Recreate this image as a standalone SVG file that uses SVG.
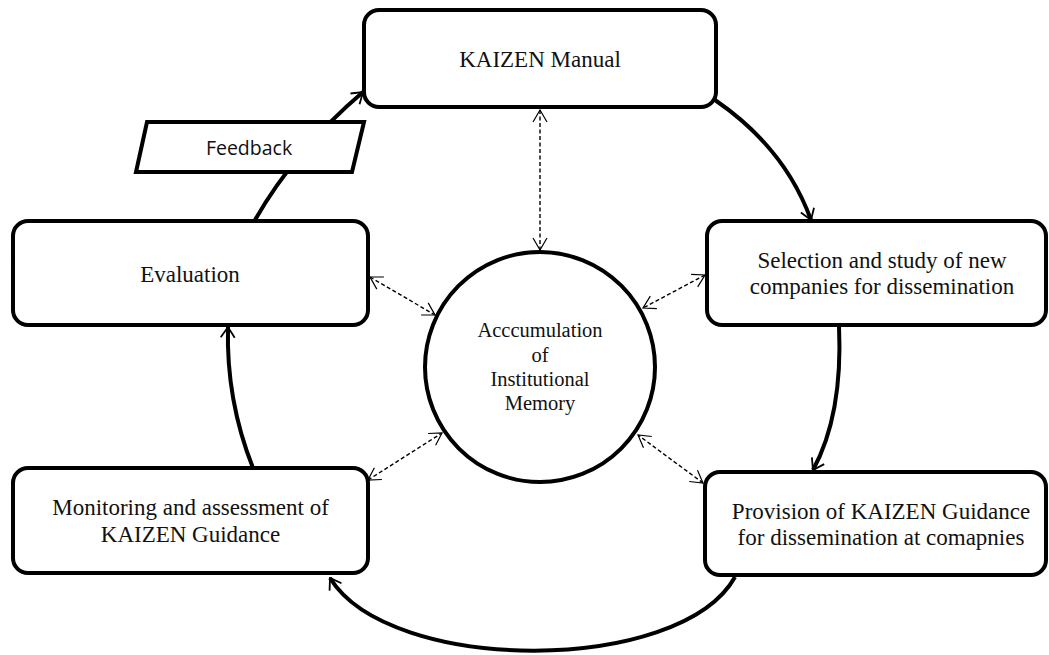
<svg xmlns="http://www.w3.org/2000/svg" width="1049" height="655" viewBox="0 0 1049 655">
  <style>
    .box { fill: #fff; stroke: #000; stroke-width: 4; }
    .label { font-family: "Liberation Serif", "Times New Roman", serif; font-size: 23px; fill: #111; text-anchor: middle; }
    .core { font-family: "Liberation Serif", "Times New Roman", serif; font-size: 20.5px; fill: #111; text-anchor: middle; }
    .note { font-family: "Open Sans", "Liberation Sans", sans-serif; font-size: 19.5px; fill: #111; text-anchor: middle; }
    .flow { fill: none; stroke: #000; stroke-width: 4; marker-end: url(#head); }
    .link { fill: none; stroke: #000; stroke-width: 1.4; stroke-dasharray: 4 2.5; marker-start: url(#tip); marker-end: url(#tip); }
  </style>
  <defs>
    <marker id="head" viewBox="0 0 14 16" refX="12.5" refY="8" markerWidth="14" markerHeight="16" markerUnits="userSpaceOnUse" orient="auto">
      <path d="M2,1 L12.5,8 L2,15" fill="none" stroke="#000" stroke-width="1.8"/>
    </marker>
    <marker id="tip" viewBox="0 0 14 16" refX="13" refY="8" markerWidth="14" markerHeight="16" markerUnits="userSpaceOnUse" orient="auto-start-reverse">
      <path d="M1,1 L13,8 L1,15" fill="none" stroke="#000" stroke-width="1.2"/>
    </marker>
  </defs>

  <!-- cycle and memory links -->
  <g id="connectors">
    <path class="flow" d="M715,100 Q785,148 811,220"/>
    <path class="flow" d="M839,326 Q843,415 813,470"/>
    <path class="flow" d="M735,577 C680,675 390,675 330,578"/>
    <path class="flow" d="M253,468 Q226,400 228,327"/>
    <path class="flow" d="M255,220 Q295,150 363,92"/>

    <line class="link" x1="540" y1="110" x2="540" y2="250"/>
    <line class="link" x1="370" y1="277" x2="435" y2="315"/>
    <line class="link" x1="705" y1="275" x2="643" y2="308"/>
    <line class="link" x1="368" y1="480" x2="442" y2="433"/>
    <line class="link" x1="703" y1="483" x2="638" y2="435"/>
  </g>

  <g id="kaizen-manual">
    <rect class="box" x="364" y="10" width="352" height="97" rx="15"/>
    <text class="label" x="540" y="67">KAIZEN Manual</text>
  </g>

  <g id="selection">
    <rect class="box" x="707" y="221" width="339" height="104" rx="15"/>
    <text class="label" x="882" y="268">Selection and study of new</text>
    <text class="label" x="882" y="294">companies for dissemination</text>
  </g>

  <g id="provision">
    <rect class="box" x="705" y="472" width="341" height="103" rx="15"/>
    <text class="label" x="881" y="519">Provision of KAIZEN Guidance</text>
    <text class="label" x="881" y="545">for dissemination at comapnies</text>
  </g>

  <g id="monitoring">
    <rect class="box" x="13" y="468" width="355" height="105" rx="15"/>
    <text class="label" x="190.5" y="515">Monitoring and assessment of</text>
    <text class="label" x="190.5" y="542">KAIZEN Guidance</text>
  </g>

  <g id="evaluation">
    <rect class="box" x="13" y="221" width="355" height="104" rx="15"/>
    <text class="label" x="190" y="282">Evaluation</text>
  </g>

  <g id="feedback">
    <polygon class="box" points="147,122 364,122 352,172 136,172" stroke-width="3.5"/>
    <text class="note" x="249" y="155">Feedback</text>
  </g>

  <g id="memory">
    <circle class="box" cx="540" cy="367" r="115"/>
    <text class="core" x="540" y="337">Acccumulation</text>
    <text class="core" x="540" y="361.5">of</text>
    <text class="core" x="540" y="386">Institutional</text>
    <text class="core" x="540" y="410">Memory</text>
  </g>
</svg>
